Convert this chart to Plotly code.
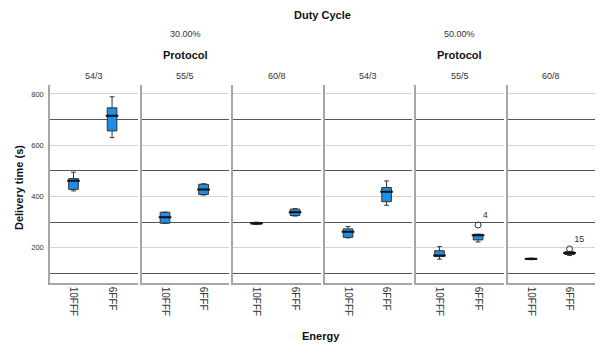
import plotly.graph_objects as go

# ---------------- data ----------------
duty_cycles = ["30.00%", "50.00%"]
protocols = ["54/3", "55/5", "60/8"]
energies = ["10FFF", "6FFF"]

# panels in order: (30%,54/3) (30%,55/5) (30%,60/8) (50%,54/3) (50%,55/5) (50%,60/8)
# each inner list: [10FFF, 6FFF]
lower_fence = [[422, 630], [296, 406], [291, 324], [239, 366], [156, 223], [154, 170]]
q1_vals     = [[428, 656], [296, 408], [292, 326], [241, 380], [166, 231], [155, 174]]
median_vals = [[462, 715], [319, 428], [296, 339], [263, 419], [170, 249], [157, 180]]
q3_vals     = [[470, 746], [339, 448], [299, 351], [274, 435], [189, 253], [159, 185]]
upper_fence = [[495, 789], [339, 450], [300, 353], [283, 461], [205, 253], [160, 186]]

outlier_panel = [4, 5]
outlier_energy = ["6FFF", "6FFF"]
outlier_value = [289, 196]
outlier_label = ["4", "15"]

y_tickvals = [200, 400, 600, 800]
ref_lines = [100, 300, 500, 700]

# ---------------- layout geometry ----------------
W, H = 600, 353
panel_left = [50, 141.5, 233, 324.5, 416, 507.5]
panel_w = 87.5
y_top_px, y_bot_px = 85, 283
FONT = "Liberation Sans, Arial, sans-serif"
BOX_BLUE = "#1e8fe6"
AXIS_GRAY = "#a6a6a6"

fig = go.Figure()

n_panels = len(panel_left)
for i in range(n_panels):
    ax = "" if i == 0 else str(i + 1)
    fig.add_trace(go.Box(
        x=energies,
        q1=q1_vals[i], median=median_vals[i], q3=q3_vals[i],
        lowerfence=lower_fence[i], upperfence=upper_fence[i],
        xaxis="x" + ax, yaxis="y" + ax,
        fillcolor=BOX_BLUE,
        line=dict(color="#333333", width=1),
        whiskerwidth=0.5,
        width=0.25,
        boxpoints=False,
        showlegend=False,
        hoverinfo="skip",
    ))
    # thick median bars
    fig.add_trace(go.Scatter(
        x=energies, y=median_vals[i],
        xaxis="x" + ax, yaxis="y" + ax,
        mode="markers",
        marker=dict(symbol="line-ew", size=9, line=dict(color="#111111", width=2)),
        showlegend=False, hoverinfo="skip",
    ))

for p, e, v, lab in zip(outlier_panel, outlier_energy, outlier_value, outlier_label):
    ax = "" if p == 0 else str(p + 1)
    fig.add_trace(go.Scatter(
        x=[e], y=[v], text=[lab],
        xaxis="x" + ax, yaxis="y" + ax,
        mode="markers+text",
        textposition="top right",
        textfont=dict(family=FONT, size=9, color="#333333"),
        marker=dict(symbol="circle-open", size=6, color="#333333", line=dict(width=1)),
        showlegend=False, hoverinfo="skip",
    ))

layout = dict(
    width=W, height=H,
    margin=dict(l=0, r=0, t=0, b=0),
    paper_bgcolor="white", plot_bgcolor="white",
    font=dict(family=FONT, color="#333333"),
)

ydom = [1 - y_bot_px / H, 1 - y_top_px / H]
for i in range(n_panels):
    ax = "" if i == 0 else str(i + 1)
    x0 = panel_left[i] / W
    x1 = (panel_left[i] + panel_w) / W
    layout["xaxis" + ax] = dict(
        domain=[x0, x1], anchor="y" + ax,
        type="category", categoryorder="array", categoryarray=energies,
        range=[-0.61, 1.66],
        showline=True, linecolor=AXIS_GRAY, linewidth=1.5,
        showgrid=False, zeroline=False, ticks="",
        tickangle=90, tickfont=dict(size=10, color="#333333"),
    )
    layout["yaxis" + ax] = dict(
        domain=ydom, anchor="x" + ax,
        range=[63, 835],
        tickmode="array", tickvals=y_tickvals,
        showticklabels=(i == 0),
        tickfont=dict(size=7.5, color="#333333"),
        ticklabelstandoff=3,
        showgrid=True, gridcolor="#d4d4d4", gridwidth=1,
        minor=dict(tickmode="array", tickvals=ref_lines, showgrid=True,
                   gridcolor="#555555", gridwidth=1),
        showline=True, linecolor=AXIS_GRAY, linewidth=1.5,
        zeroline=False, ticks="",
    )

def ypaper(px):
    return 1 - px / H

def ann(text, xpx, ypx, size, color, **kw):
    d = dict(text=text, x=xpx / W, y=ypaper(ypx), xref="paper", yref="paper",
             showarrow=False, xanchor="center", yanchor="middle",
             font=dict(size=size, color=color))
    d.update(kw)
    return d

annotations = [ann("<b>Duty Cycle</b>", 322.5, 15, 11, "#111111")]
for g, dc in enumerate(duty_cycles):
    left = panel_left[3 * g]
    right = panel_left[3 * g + 2] + panel_w
    cx = (left + right) / 2
    annotations.append(ann(dc, cx, 34, 9, "#333333"))
    annotations.append(ann("<b>Protocol</b>", cx, 54.5, 11, "#111111"))
    for k, pr in enumerate(protocols):
        pi = 3 * g + k
        annotations.append(ann(pr, panel_left[pi] + panel_w / 2, 76, 9, "#333333"))

annotations.append(ann("<b>Energy</b>", 321, 336, 11, "#111111"))
annotations.append(ann("<b>Delivery time (s)</b>", 19, 188, 11, "#111111", textangle=-90))
layout["annotations"] = annotations

fig.update_layout(**layout)
fig.write_html("out.html")
